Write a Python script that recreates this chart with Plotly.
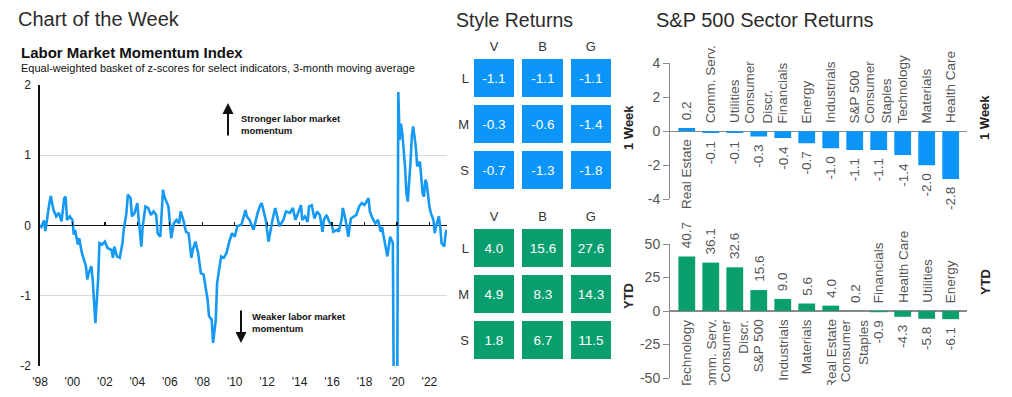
import plotly.graph_objects as go

W, H = 1012, 397
def px(x):
    return x / W
def py(y):
    return 1 - y / H

FONT = "Liberation Sans, Arial, sans-serif"
BLUE = "#0B95F8"
LINE_BLUE = "#1599F3"
GREEN = "#089E6E"

# ---------------- Data ----------------
lmmi_dates = [
    "1998-01", "1998-02", "1998-04", "1998-05", "1998-08", "1998-09", "1998-11",
    "1999-01", "1999-03", "1999-05", "1999-07", "1999-08", "1999-09", "1999-11",
    "2000-01", "2000-02", "2000-03", "2000-05", "2000-06", "2000-08", "2000-11", "2000-12",
    "2001-01", "2001-03", "2001-04", "2001-06", "2001-08", "2001-09", "2001-11",
    "2002-01", "2002-03", "2002-06", "2002-07", "2002-08", "2002-10", "2002-12",
    "2003-02", "2003-03", "2003-05", "2003-06", "2003-08", "2003-09", "2003-11",
    "2004-01", "2004-02", "2004-04", "2004-05", "2004-07", "2004-09", "2004-11",
    "2005-01", "2005-03", "2005-04", "2005-06", "2005-08", "2005-09", "2005-12",
    "2006-01", "2006-02", "2006-04", "2006-06", "2006-08", "2006-09", "2006-11",
    "2007-01", "2007-03", "2007-05", "2007-06", "2007-08", "2007-10", "2007-12",
    "2008-02", "2008-05", "2008-06", "2008-08", "2008-09", "2008-11", "2008-12",
    "2009-02", "2009-03", "2009-05", "2009-07", "2009-09", "2009-11",
    "2010-01", "2010-03", "2010-06", "2010-09", "2010-10", "2010-12",
    "2011-03", "2011-06", "2011-08", "2011-09", "2011-12",
    "2012-02", "2012-05", "2012-07", "2012-09", "2012-10",
    "2013-01", "2013-03", "2013-06", "2013-08", "2013-10", "2013-12",
    "2014-02", "2014-03", "2014-05", "2014-07", "2014-08", "2014-10", "2014-12",
    "2015-02", "2015-04", "2015-06", "2015-07", "2015-09", "2015-11",
    "2016-01", "2016-02", "2016-05", "2016-06", "2016-08", "2016-09", "2016-11",
    "2017-01", "2017-03", "2017-05", "2017-07", "2017-09", "2017-11",
    "2018-01", "2018-02", "2018-04", "2018-05", "2018-07", "2018-09", "2018-11",
    "2019-01", "2019-02", "2019-03", "2019-06", "2019-07", "2019-08", "2019-10", "2019-11",
    "2020-01", "2020-02", "2020-03", "2020-04", "2020-05", "2020-07", "2020-08", "2020-09",
    "2020-11", "2020-12",
    "2021-01", "2021-03", "2021-04", "2021-06", "2021-08", "2021-09", "2021-10", "2021-11",
    "2022-01", "2022-02", "2022-04", "2022-05", "2022-06", "2022-08", "2022-09", "2022-10",
    "2022-12", "2023-01", "2023-02",
]
lmmi_values = [
    0.00, -0.02, 0.07, -0.08, 0.32, 0.42, 0.22,
    0.13, 0.18, 0.06, 0.39, 0.41, 0.08, 0.13,
    0.08, -0.13, -0.06, -0.27, -0.18, -0.39, -0.58, -0.77,
    -0.68, -0.58, -0.77, -1.39, -0.77, -0.25, -0.27,
    -0.23, -0.32, -0.35, -0.46, -0.30, -0.44, -0.46,
    -0.25, -0.06, 0.18, 0.44, 0.39, 0.13, 0.18,
    0.32, 0.08, -0.30, -0.01, 0.27, 0.25, 0.15,
    0.20, 0.15, -0.11, -0.16, 0.51, 0.41, 0.27,
    0.03, -0.18, 0.03, 0.08, 0.03, 0.20, 0.08,
    -0.09, -0.11, -0.46, -0.35, -0.23, -0.39, -0.68,
    -0.70, -1.06, -1.29, -1.34, -1.67, -1.34, -0.82,
    -0.54, -0.44, -0.46, -0.39, -0.23, -0.11,
    -0.16, -0.01, 0.01, 0.22, 0.13, 0.08,
    -0.06, 0.18, 0.29, 0.32, 0.08,
    -0.23, 0.08, 0.25, 0.08, -0.01,
    0.08, 0.20, 0.18, 0.25, 0.08, 0.20,
    0.29, 0.08, 0.13, 0.05, 0.27, 0.29, 0.10,
    0.20, 0.15, -0.09, 0.08, 0.15, 0.05,
    -0.01, -0.09, -0.06, -0.09, 0.08, 0.25, 0.08,
    -0.16, 0.10, 0.13, 0.15, 0.27, 0.32,
    0.29, 0.32, 0.39, 0.20, 0.10, 0.03, 0.08,
    -0.09, -0.02, -0.13, -0.44, -0.30, -0.16, -0.25, -3.50,
    -3.50, 1.90, 1.22, 1.45, 1.31, 0.84, 0.46, 0.34,
    0.89, 1.27,
    1.41, 1.12, 0.84, 0.91, 0.46, 0.41, 0.65, 0.60,
    0.27, 0.18, 0.08, -0.11, -0.01, 0.13, -0.01, -0.25,
    -0.30, -0.11, -0.06,
]
year_tick_vals = ["%d-01-01" % y for y in range(1998, 2023, 2)]
year_tick_text = ["'98", "'00", "'02", "'04", "'06", "'08", "'10", "'12",
                  "'14", "'16", "'18", "'20", "'22"]
lmmi_y_ticks = [-2, -1, 0, 1, 2]

style_cols = ["V", "B", "G"]
style_rows = ["L", "M", "S"]
style_1w = [[-1.1, -1.1, -1.1],
            [-0.3, -0.6, -1.4],
            [-0.7, -1.3, -1.8]]
style_ytd = [[4.0, 15.6, 27.6],
             [4.9, 8.3, 14.3],
             [1.8, 6.7, 11.5]]

sect_1w_names = ["Real Estate", "Comm. Serv.", "Utilities", "Consumer<br>Discr.",
                 "Financials", "Energy", "Industrials", "S&P 500",
                 "Consumer<br>Staples", "Technology", "Materials", "Health Care"]
sect_1w_vals = [0.2, -0.1, -0.1, -0.3, -0.4, -0.7, -1.0, -1.1, -1.1, -1.4, -2.0, -2.8]
sect_1w_ticks = [-4, -2, 0, 2, 4]

sect_ytd_names = ["Technology", "Comm. Serv.", "Consumer<br>Discr.", "S&P 500",
                  "Industrials", "Materials", "Real Estate", "Consumer<br>Staples",
                  "Financials", "Health Care", "Utilities", "Energy"]
sect_ytd_vals = [40.7, 36.1, 32.6, 15.6, 9.0, 5.6, 4.0, 0.2, -0.9, -4.3, -5.8, -6.1]
sect_ytd_ticks = [-50, -25, 0, 25, 50]

def tick_text(vals):
    return [str(v) for v in vals]  # plain hyphen-minus like the source

# ---------------- Figure ----------------
fig = go.Figure()

fig.add_trace(go.Scatter(x=lmmi_dates, y=lmmi_values, mode="lines",
                         line=dict(color=LINE_BLUE, width=2.6),
                         xaxis="x", yaxis="y", hoverinfo="skip", showlegend=False))
fig.add_trace(go.Scatter(x=[lmmi_dates[0]], y=[0], mode="markers", opacity=0,
                         xaxis="x2", yaxis="y", hoverinfo="skip", showlegend=False))

def fmt(m):
    return [["%.1f" % v for v in row] for row in m]

for z, color, xa, ya in [(style_1w, BLUE, "x3", "y3"), (style_ytd, GREEN, "x4", "y4")]:
    fig.add_trace(go.Heatmap(z=z, x=style_cols, y=style_rows, text=fmt(z),
                             texttemplate="%{text}",
                             textfont=dict(color="white", size=13.5, family=FONT),
                             colorscale=[[0, color], [1, color]], showscale=False,
                             xgap=8, ygap=8, xaxis=xa, yaxis=ya, hoverinfo="skip"))

fig.add_trace(go.Bar(x=sect_1w_names, y=sect_1w_vals, marker_color=BLUE, width=0.7,
                     marker_line_width=0,
                     xaxis="x5", yaxis="y5", hoverinfo="skip", showlegend=False))
fig.add_trace(go.Bar(x=sect_ytd_names, y=sect_ytd_vals, marker_color=GREEN, width=0.7,
                     marker_line_width=0,
                     xaxis="x6", yaxis="y6", hoverinfo="skip", showlegend=False))

lmmi_dom_y = [py(366), py(85)]
axis_common = dict(showgrid=False, zeroline=False, showline=False, ticks="", automargin=False)

layout = dict(
    template="none",
    width=W, height=H, margin=dict(l=0, r=0, t=0, b=0, pad=0), autosize=False,
    paper_bgcolor="white", plot_bgcolor="white",
    font=dict(family=FONT, color="#222"),
    showlegend=False,
    xaxis=dict(domain=[px(40), px(447)], anchor="y", type="date",
               range=["1998-01-01", "2023-02-01"],
               tickvals=year_tick_vals, ticktext=year_tick_text, ticklabelstandoff=7,
               tickfont=dict(size=12, color="#222"), **axis_common),
    xaxis2=dict(domain=[px(40), px(447)], overlaying="x", anchor="free",
                position=(lmmi_dom_y[0] + lmmi_dom_y[1]) / 2, side="bottom",
                type="date", range=["1998-01-01", "2023-02-01"],
                tickvals=year_tick_vals, ticks="inside", ticklen=4, tickwidth=1.2,
                tickcolor="#111", showticklabels=False, showgrid=False,
                zeroline=False, showline=False, automargin=False),
    yaxis=dict(domain=lmmi_dom_y, anchor="x", range=[-2, 2], tickvals=lmmi_y_ticks,
               ticktext=tick_text(lmmi_y_ticks), ticklabelstandoff=5,
               tickfont=dict(size=12, color="#222"), showgrid=True, gridcolor="#d9d9d9",
               gridwidth=1, zeroline=True, zerolinecolor="#111", zerolinewidth=1.6,
               showline=True, linecolor="#111", linewidth=1.6, ticks="", automargin=False),
    xaxis3=dict(domain=[px(470), px(615)], anchor="y3", side="top",
                tickfont=dict(size=13, color="#333"), **axis_common),
    yaxis3=dict(domain=[py(193), py(55)], anchor="x3", autorange="reversed",
                tickfont=dict(size=13, color="#333"), **axis_common),
    xaxis4=dict(domain=[px(470), px(615)], anchor="y4", side="top",
                tickfont=dict(size=13, color="#333"), **axis_common),
    yaxis4=dict(domain=[py(363), py(225)], anchor="x4", autorange="reversed",
                tickfont=dict(size=13, color="#333"), **axis_common),
    xaxis5=dict(domain=[px(670), px(967)], anchor="y5", type="category",
                range=[-0.7, 11.68], showticklabels=False, **axis_common),
    yaxis5=dict(domain=[py(199.3), py(63.3)], anchor="x5", range=[-4, 4],
                tickvals=sect_1w_ticks, ticktext=tick_text(sect_1w_ticks),
                tickfont=dict(size=14, color="#555"),
                showgrid=False, showline=True, linecolor="#8a8a8a", linewidth=1,
                ticks="outside", ticklen=6, tickcolor="#8a8a8a", automargin=False,
                zeroline=True, zerolinecolor="#8a8a8a", zerolinewidth=1.5),
    xaxis6=dict(domain=[px(670), px(967)], anchor="y6", type="category",
                range=[-0.7, 11.68], showticklabels=False, **axis_common),
    yaxis6=dict(domain=[py(378), py(244)], anchor="x6", range=[-50, 50],
                tickvals=sect_ytd_ticks, ticktext=tick_text(sect_ytd_ticks),
                tickfont=dict(size=14, color="#555"),
                showgrid=False, showline=True, linecolor="#8a8a8a", linewidth=1,
                ticks="outside", ticklen=6, tickcolor="#8a8a8a", automargin=False,
                zeroline=True, zerolinecolor="#8a8a8a", zerolinewidth=1.5),
)
fig.update_layout(**layout)

ann = []
def text(x, y, s, size, bold=False, color="#222", xanchor="left", yanchor="middle",
         angle=0, align="left"):
    ann.append(dict(xref="paper", yref="paper", x=px(x), y=py(y),
                    text=("<b>%s</b>" % s) if bold else s, showarrow=False,
                    font=dict(size=size, color=color, family=FONT),
                    xanchor=xanchor, yanchor=yanchor, textangle=angle, align=align))

text(16, 19, "Chart of the Week", 20, color="#2b2b2b")
text(454, 20, "Style Returns", 19.5, color="#2b2b2b")
text(654, 20, "S&P 500 Sector Returns", 20, color="#2b2b2b")
text(19, 52, "Labor Market Momentum Index", 15, bold=True, color="#111")
text(19, 68.5, "Equal-weighted basket of z-scores for select indicators, 3-month moving average",
     11, color="#111")

text(239, 124.5, "Stronger labor market<br>momentum", 9.5, bold=True, color="#111")
text(250, 322.5, "Weaker labor market<br>momentum", 9.5, bold=True, color="#111")
ann.append(dict(xref="paper", yref="paper", x=px(228), y=py(103), ax=0, ay=34,
                axref="pixel", ayref="pixel", text="", showarrow=True, arrowhead=2,
                arrowsize=1.1, arrowwidth=2, arrowcolor="#111"))
ann.append(dict(xref="paper", yref="paper", x=px(241), y=py(343), ax=0, ay=-34,
                axref="pixel", ayref="pixel", text="", showarrow=True, arrowhead=2,
                arrowsize=1.1, arrowwidth=2, arrowcolor="#111"))

for x, y, s in [(628, 128, "1 Week"), (985, 118, "1 Week"), (628, 296, "YTD"), (985, 282, "YTD")]:
    text(x, y, s, 13, bold=True, color="#222", xanchor="center", angle=-90)

def bar_labels(names, vals, xa, ya):
    for n, v in zip(names, vals):
        pos = v >= 0
        ann.append(dict(xref=xa, yref=ya, x=n, y=v, text="%.1f" % v, showarrow=False,
                        textangle=-90, xanchor="center",
                        yanchor="bottom" if pos else "top", yshift=6 if pos else -6,
                        font=dict(size=13.5, color="#555", family=FONT)))
        ann.append(dict(xref=xa, yref=ya, x=n, y=0, text=n, showarrow=False,
                        textangle=-90, xanchor="center",
                        yanchor="top" if pos else "bottom", yshift=-6 if pos else 6,
                        align="right" if pos else "left",
                        font=dict(size=13.5, color="#555", family=FONT)))

bar_labels(sect_1w_names, sect_1w_vals, "x5", "y5")
bar_labels(sect_ytd_names, sect_ytd_vals, "x6", "y6")

# the source image is cropped just under the lower sector labels
ann.append(dict(xref="paper", yref="paper", x=px(655), y=0, xanchor="left", yanchor="bottom",
                text=" ", showarrow=False, width=340, height=12, bgcolor="white",
                borderpad=0, borderwidth=0))

fig.update_layout(annotations=ann)
fig.write_html("out.html", config={"displayModeBar": False, "staticPlot": True},
               post_script="document.body.style.margin='0';document.body.style.overflow='hidden';")
